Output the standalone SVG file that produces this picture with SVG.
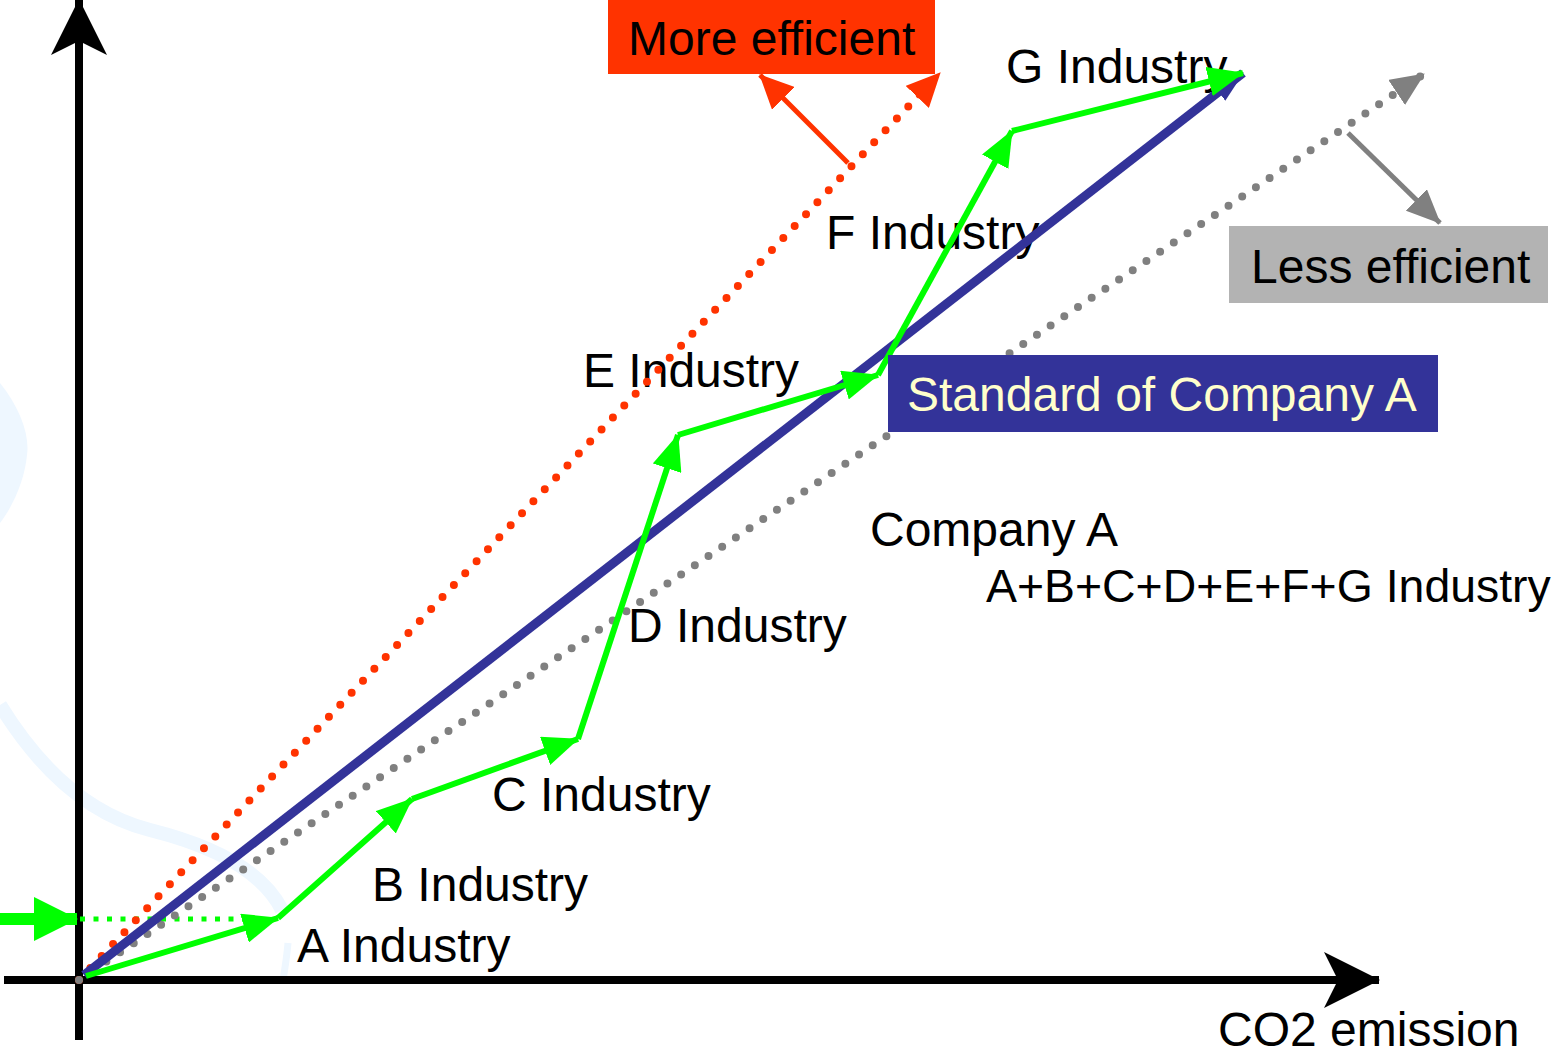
<svg xmlns="http://www.w3.org/2000/svg" width="1558" height="1053" viewBox="0 0 1558 1053">
<style>
text{font-family:"Liberation Sans",Arial,sans-serif;font-size:48px;fill:#000}
.axis{stroke:#000;stroke-width:8;fill:none}
.grn{stroke:#00FF00;stroke-width:6;fill:none;marker-end:url(#mg)}
.bg{fill:none;stroke:#EEF7FF}
</style>
<defs>
<marker id="mg" markerUnits="userSpaceOnUse" viewBox="0 0 36 30" refX="35" refY="15" markerWidth="36" markerHeight="30" orient="auto"><path d="M0,0 L36,15 L0,30 z" fill="#00FF00"/></marker>
<marker id="mgb" markerUnits="userSpaceOnUse" viewBox="0 0 44 44" refX="43" refY="22" markerWidth="44" markerHeight="44" orient="auto"><path d="M0,0 L44,22 L0,44 z" fill="#00FF00"/></marker>
<marker id="mb" markerUnits="userSpaceOnUse" viewBox="0 0 32 22" refX="31" refY="11" markerWidth="32" markerHeight="22" orient="auto"><path d="M0,0 L32,11 L0,22 z" fill="#333399"/></marker>
<marker id="mr" markerUnits="userSpaceOnUse" viewBox="0 0 34 32" refX="33" refY="16" markerWidth="34" markerHeight="32" orient="auto"><path d="M0,0 L34,16 L0,32 z" fill="#FF3300"/></marker>
<marker id="mgr" markerUnits="userSpaceOnUse" viewBox="0 0 34 30" refX="33" refY="15" markerWidth="34" markerHeight="30" orient="auto"><path d="M0,0 L34,15 L0,30 z" fill="#808080"/></marker>
<marker id="mk" markerUnits="userSpaceOnUse" viewBox="0 0 56 56" refX="55" refY="28" markerWidth="56" markerHeight="56" orient="auto"><path d="M0,0 L56,28 L0,56 L14,28 z" fill="#000"/></marker>
</defs>
<rect width="1558" height="1053" fill="#fff"/>
<g id="background">
<path d="M0,383 C20,408 30,435 27,455 C25,478 14,505 0,523 Z" fill="#EEF7FF"/>
<path class="bg" stroke-width="14" d="M0,705 C40,770 90,815 150,830 C210,845 262,870 282,910"/>
<path class="bg" stroke-width="7" d="M288,943 C287,955 285,968 283,980"/>
</g>
<g id="labels">
<g id="label-g"><text x="1006" y="83">G Industry</text></g>
<g id="label-f"><text x="826" y="249">F Industry</text></g>
<g id="label-e"><text x="583" y="387">E Industry</text></g>
<g id="label-d"><text x="628" y="642">D Industry</text></g>
<g id="label-c"><text x="492" y="811">C Industry</text></g>
<g id="label-b"><text x="372" y="901">B Industry</text></g>
<g id="label-a"><text x="297" y="962">A Industry</text></g>
<g id="label-company"><text x="870" y="546">Company A</text></g>
<g id="label-sum"><text x="986" y="602" style="font-size:46.4px">A+B+C+D+E+F+G Industry</text></g>
<g id="label-x"><text x="1218" y="1046">CO2 emission</text></g>
</g>
<g id="connectors">
<line class="axis" x1="79" y1="1040" x2="79" y2="0" marker-end="url(#mk)"/>
<line class="axis" x1="4" y1="980" x2="1379" y2="980" marker-end="url(#mk)"/>
<line x1="0" y1="919" x2="77" y2="919" stroke="#00FF00" stroke-width="12" marker-end="url(#mgb)"/>
<line x1="80" y1="919" x2="245" y2="919" stroke="#00FF00" stroke-width="5" stroke-dasharray="5 8.5"/>
<line x1="79" y1="980" x2="940" y2="73" stroke="#FF3300" stroke-width="8" stroke-linecap="round" stroke-dasharray="0 16.5" marker-end="url(#mr)"/>
<line x1="79" y1="980" x2="1424" y2="74" stroke="#808080" stroke-width="8" stroke-linecap="round" stroke-dasharray="0 16.5" marker-end="url(#mgr)"/>
<line x1="84" y1="975" x2="1243" y2="73" stroke="#333399" stroke-width="9" marker-end="url(#mb)"/>
<line class="grn" x1="86" y1="976" x2="278" y2="918"/>
<line class="grn" x1="278" y1="918" x2="412" y2="799"/>
<line class="grn" x1="412" y1="799" x2="578" y2="739"/>
<line class="grn" x1="578" y1="739" x2="678" y2="435"/>
<line class="grn" x1="678" y1="435" x2="878" y2="375"/>
<line class="grn" x1="878" y1="375" x2="1012" y2="131"/>
<line class="grn" x1="1012" y1="131" x2="1243" y2="73"/>
<line x1="848" y1="163" x2="760" y2="75" stroke="#FF3300" stroke-width="5" marker-end="url(#mr)"/>
<line x1="1348" y1="133" x2="1440" y2="223" stroke="#808080" stroke-width="5" marker-end="url(#mgr)"/>
</g>
<g id="more-efficient">
<rect x="608" y="0" width="327" height="74" fill="#FF3300"/>
<text x="628" y="55">More efficient</text>
</g>
<g id="less-efficient">
<rect x="1229" y="226" width="319" height="77" fill="#B3B3B3"/>
<text x="1251" y="283">Less efficient</text>
</g>
<g id="standard">
<rect x="888" y="355" width="550" height="77" fill="#333399"/>
<text x="907" y="411" style="fill:#FFFFCC">Standard of Company A</text>
</g>
</svg>
